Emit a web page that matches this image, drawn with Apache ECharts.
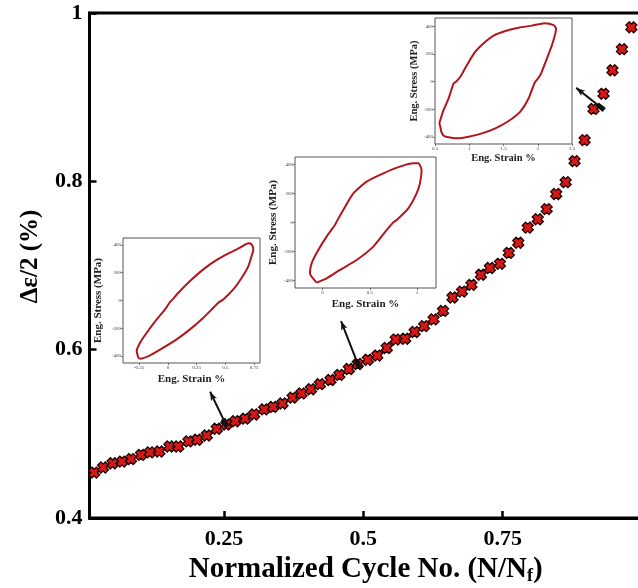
<!DOCTYPE html>
<html><head><meta charset="utf-8">
<script src="https://cdn.jsdelivr.net/npm/echarts@6/dist/echarts.min.js"></script>
<style>html,body{margin:0;padding:0;background:#fff}#c{width:638px;height:588px}</style>
</head><body><div id="c"></div>
<script>
// ---- main chart data ----
const cycleX = [0.017,0.033,0.050,0.067,0.083,0.101,0.117,0.134,0.152,0.168,0.186,0.202,0.219,0.237,0.254,0.270,0.288,0.304,0.322,0.338,0.355,0.373,0.389,0.406,0.422,0.441,0.457,0.474,0.490,0.508,0.525,0.542,0.558,0.575,0.592,0.609,0.626,0.643,0.660,0.677,0.694,0.711,0.727,0.745,0.761,0.778,0.795,0.813,0.829,0.846,0.863,0.879,0.897,0.913,0.931,0.947,0.964,0.981];
const strainAmp = [0.454,0.460,0.465,0.467,0.470,0.475,0.478,0.479,0.485,0.485,0.491,0.493,0.498,0.506,0.511,0.515,0.518,0.523,0.529,0.532,0.536,0.543,0.548,0.553,0.559,0.564,0.570,0.577,0.583,0.588,0.593,0.602,0.612,0.613,0.621,0.628,0.636,0.646,0.662,0.669,0.677,0.689,0.697,0.702,0.715,0.727,0.745,0.755,0.767,0.785,0.799,0.824,0.849,0.886,0.904,0.932,0.957,0.983];
const xTicks = [0.25, 0.5, 0.75];
const arrowFrom = [[0.252, 0.513], [0.490, 0.583], [0.926, 0.888]];
const arrowTo   = [[0.225, 0.550], [0.460, 0.634], [0.882, 0.911]];

// ---- inset hysteresis loops (strain %, stress MPa) ----
const loop1Strain = [-0.257,-0.271,-0.242,-0.184,-0.097,-0.025,0.018,0.033,0.091,0.192,0.308,0.424,0.539,0.626,0.699,0.727,0.742,0.727,0.699,0.641,0.568,0.481,0.438,0.395,0.308,0.192,0.076,-0.04,-0.155,-0.242,-0.257];
const loop1Stress = [-412,-364,-304,-232,-136,-64,-11,1,56,140,224,292,344,380,412,404,368,320,248,164,80,8,-16,-52,-124,-208,-280,-340,-395,-419,-412];
const loop1XTicks = [-0.25, 0, 0.25, 0.5, 0.75];

const loop2Strain = [-0.061,-0.132,-0.114,-0.044,0.044,0.132,0.15,0.22,0.326,0.467,0.643,0.819,0.96,1.013,1.048,1.03,0.995,0.907,0.784,0.749,0.678,0.537,0.361,0.185,0.044,-0.061];
const loop2Stress = [-413,-349,-280,-189,-97,-17,6,86,200,281,338,384,407,407,361,269,200,97,17,1,-52,-166,-258,-326,-384,-413];
const loop2XTicks = [0, 0.5, 1];

const loop3Strain = [0.563,0.578,0.592,0.626,0.675,0.821,0.991,1.186,1.381,1.575,1.745,1.867,1.94,1.965,2.038,2.135,2.208,2.256,2.266,2.232,2.1,1.916,1.721,1.527,1.356,1.235,1.088,0.967,0.87,0.806,0.772,0.699,0.626,0.563];
const loop3Stress = [-300,-325,-361,-390,-399,-409,-397,-373,-337,-284,-216,-120,-24,0,48,169,265,349,385,409,422,405,390,366,333,289,217,121,36,0,-12,-120,-204,-300];
const loop3XTicks = [0.5, 1, 1.5, 2, 2.5];
const stressTicks = [-400, -200, 0, 200, 400];

const serif = 'Liberation Serif';
const zip = (a, b) => a.map((v, i) => [v, b[i]]);

const chart = echarts.init(document.getElementById('c'));

function insetAxes(idx, xMin, xMax, xt, yMin, yMax, xGap, yGap, nameSize) {
  const tick = {show: true, inside: false, length: 2, lineStyle: {color: '#555', width: 0.8}};
  const lab = {fontSize: 5, fontFamily: serif, color: '#333', margin: 2};
  const nm = {fontFamily: serif, fontWeight: 'bold', fontSize: nameSize, color: '#222'};
  return {
    x: {type: 'value', gridIndex: idx, min: xMin, max: xMax, axisLine: {show: false, onZero: false},
        axisTick: Object.assign({customValues: xt}, tick),
        axisLabel: Object.assign({customValues: xt}, lab), splitLine: {show: false},
        name: 'Eng. Strain %', nameLocation: 'middle', nameGap: xGap, nameTextStyle: nm},
    y: {type: 'value', gridIndex: idx, min: yMin, max: yMax, axisLine: {show: false, onZero: false},
        axisTick: Object.assign({customValues: stressTicks}, tick),
        axisLabel: Object.assign({customValues: stressTicks}, lab), splitLine: {show: false},
        name: 'Eng. Stress (MPa)', nameLocation: 'middle', nameGap: yGap, nameTextStyle: nm}
  };
}
const a1 = insetAxes(1, -0.39, 0.80, loop1XTicks, -450, 450, 11, 19, 11);
const a2 = insetAxes(2, -0.29, 1.20, loop2XTicks, -450, 450, 11, 16, 11);
const a3 = insetAxes(3, 0.5, 2.5, loop3XTicks, -450, 460, 9, 15, 10.5);

const loopLine = (idx, xs, ys) => ({
  type: 'line', xAxisIndex: idx, yAxisIndex: idx, data: zip(xs, ys), smooth: 0.2,
  showSymbol: false, lineStyle: {color: '#b0161b', width: 2}, silent: true
});

chart.setOption({
  animation: false,
  backgroundColor: '#fff',
  grid: [
    {left: 89.5, top: 13, bottom: 70, right: -4, outerBoundsMode: 'none', show: true, borderColor: '#000', borderWidth: 3},
    {left: 123, top: 238, width: 137, height: 125, outerBoundsMode: 'none', show: true, borderColor: '#555', borderWidth: 1, backgroundColor: '#fff'},
    {left: 295, top: 157, width: 141, height: 131, outerBoundsMode: 'none', show: true, borderColor: '#555', borderWidth: 1, backgroundColor: '#fff'},
    {left: 435, top: 18, width: 137, height: 126, outerBoundsMode: 'none', show: true, borderColor: '#555', borderWidth: 1, backgroundColor: '#fff'}
  ],
  xAxis: [
    {type: 'value', min: 0.0086, max: 1.0,
     axisLine: {onZero: false, lineStyle: {color: '#000', width: 3}},
     axisTick: {inside: true, length: 7, customValues: xTicks, lineStyle: {color: '#000', width: 2.5}},
     axisLabel: {customValues: xTicks, margin: 10, fontFamily: serif, fontWeight: 'bold', fontSize: 22, color: '#000'},
     splitLine: {show: false},
     name: '{a|Normalized Cycle No. (N/N}{s|f}{a|)}', nameLocation: 'middle', nameGap: 34,
     nameTextStyle: {rich: {
       a: {fontFamily: serif, fontWeight: 'bold', fontSize: 29, color: '#000', lineHeight: 32},
       s: {fontFamily: serif, fontWeight: 'bold', fontSize: 18, color: '#000', verticalAlign: 'bottom', lineHeight: 22}
     }}},
    a1.x, a2.x, a3.x
  ],
  yAxis: [
    {type: 'value', min: 0.4, max: 1, interval: 0.2,
     axisLine: {onZero: false, lineStyle: {color: '#000', width: 3}},
     axisTick: {inside: true, length: 7, lineStyle: {color: '#000', width: 2.5}},
     axisLabel: {margin: 7, fontFamily: serif, fontWeight: 'bold', fontSize: 22, color: '#000'},
     splitLine: {show: false},
     name: 'Δε/2 (%)', nameLocation: 'middle', nameGap: 46,
     nameTextStyle: {fontFamily: serif, fontWeight: 'bold', fontSize: 25, color: '#000', padding: [0, 0, 0, 18]}},
    a1.y, a2.y, a3.y
  ],
  series: [
    {type: 'scatter', data: zip(cycleX, strainAmp),
     symbol: 'path://M3,0 L5,2 L7,0 L10,3 L8,5 L10,7 L7,10 L5,8 L3,10 L0,7 L2,5 L0,3 Z',
     symbolSize: 11, itemStyle: {color: '#d81717', borderColor: '#1e0202', borderWidth: 1.3, opacity: 1},
     markLine: {silent: true, symbol: ['rect', 'arrow'], symbolSize: [5, 9],
       lineStyle: {color: '#111', width: 2, type: 'solid'}, label: {show: false},
       data: arrowFrom.map((f, i) => [{coord: f}, {coord: arrowTo[i]}])}},
    loopLine(1, loop1Strain, loop1Stress),
    loopLine(2, loop2Strain, loop2Stress),
    loopLine(3, loop3Strain, loop3Stress)
  ]
});
</script></body></html>
